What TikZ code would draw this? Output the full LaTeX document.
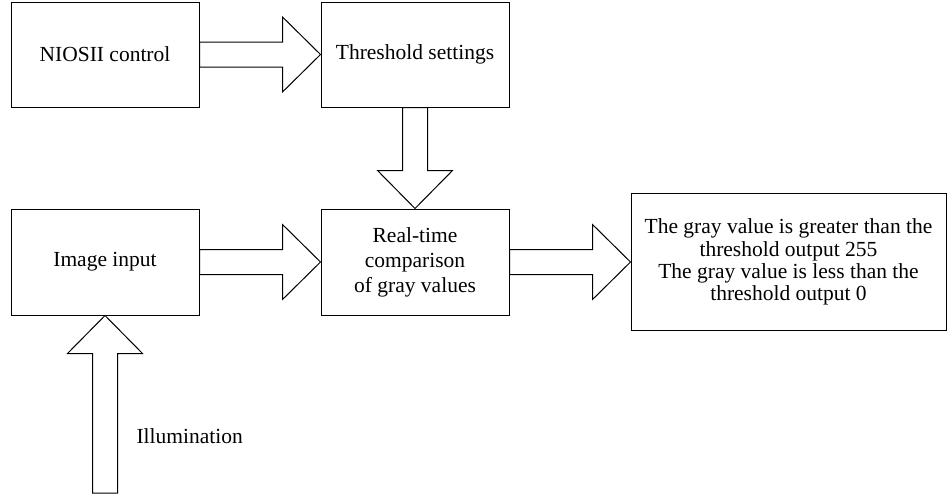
\documentclass[tikz,border=0pt]{standalone}
\usepackage{fontspec}
\setmainfont{Liberation Serif}
\usetikzlibrary{calc}
\tikzset{box/.style={draw,line width=1pt,align=center,inner sep=0pt,font=\fontsize{21.5}{25}\selectfont}}
\tikzset{blk/.style={draw,line width=1pt,line join=miter}}
\newcommand{\blockarrow}[2]{%
  \coordinate (hb) at ($(#2)!38pt!(#1)$);
  \draw[blk] ($(#1)!12.5pt!90:(#2)$) -- ($(hb)!12.5pt!90:(#2)$) -- ($(hb)!37.5pt!90:(#2)$) -- (#2)
    -- ($(hb)!37.5pt!-90:(#2)$) -- ($(hb)!12.5pt!-90:(#2)$) -- ($(#1)!12.5pt!-90:(#2)$) -- cycle;}

\begin{document}
\begin{tikzpicture}[x=1pt,y=-1pt]
        \useasboundingbox (0,0) rectangle (947,496);
        \node[box,minimum width=188pt,minimum height=105pt] (niosii) at (105,54.5) {NIOSII control};
        \node[box,minimum width=188pt,minimum height=105pt] (thresh) at (415,54.5) {Threshold settings};
        \node[box,minimum width=188pt,minimum height=106pt] (img) at (105,262) {Image input};
        \node[box,minimum width=188pt,minimum height=106pt] (comp) at (415,262) {Real-time\\comparison\\of gray values};
        \node[box,minimum width=315pt,minimum height=137pt,font=\fontsize{21.5}{22.3}\selectfont] (out) at (788.5,262)
            {The gray value is greater than the\\threshold output 255\\The gray value is less than the\\threshold output 0};
        \coordinate (light) at (105,493);
        \blockarrow{niosii.east}{thresh.west}
        \blockarrow{thresh.south}{comp.north}
        \blockarrow{img.east}{comp.west}
        \blockarrow{comp.east}{out.west}
        \blockarrow{light}{img.south}
        \node[anchor=base west,font=\fontsize{21.5}{25}\selectfont] (illum) at (133,443) {Illumination};
    \end{tikzpicture}
\end{document}
